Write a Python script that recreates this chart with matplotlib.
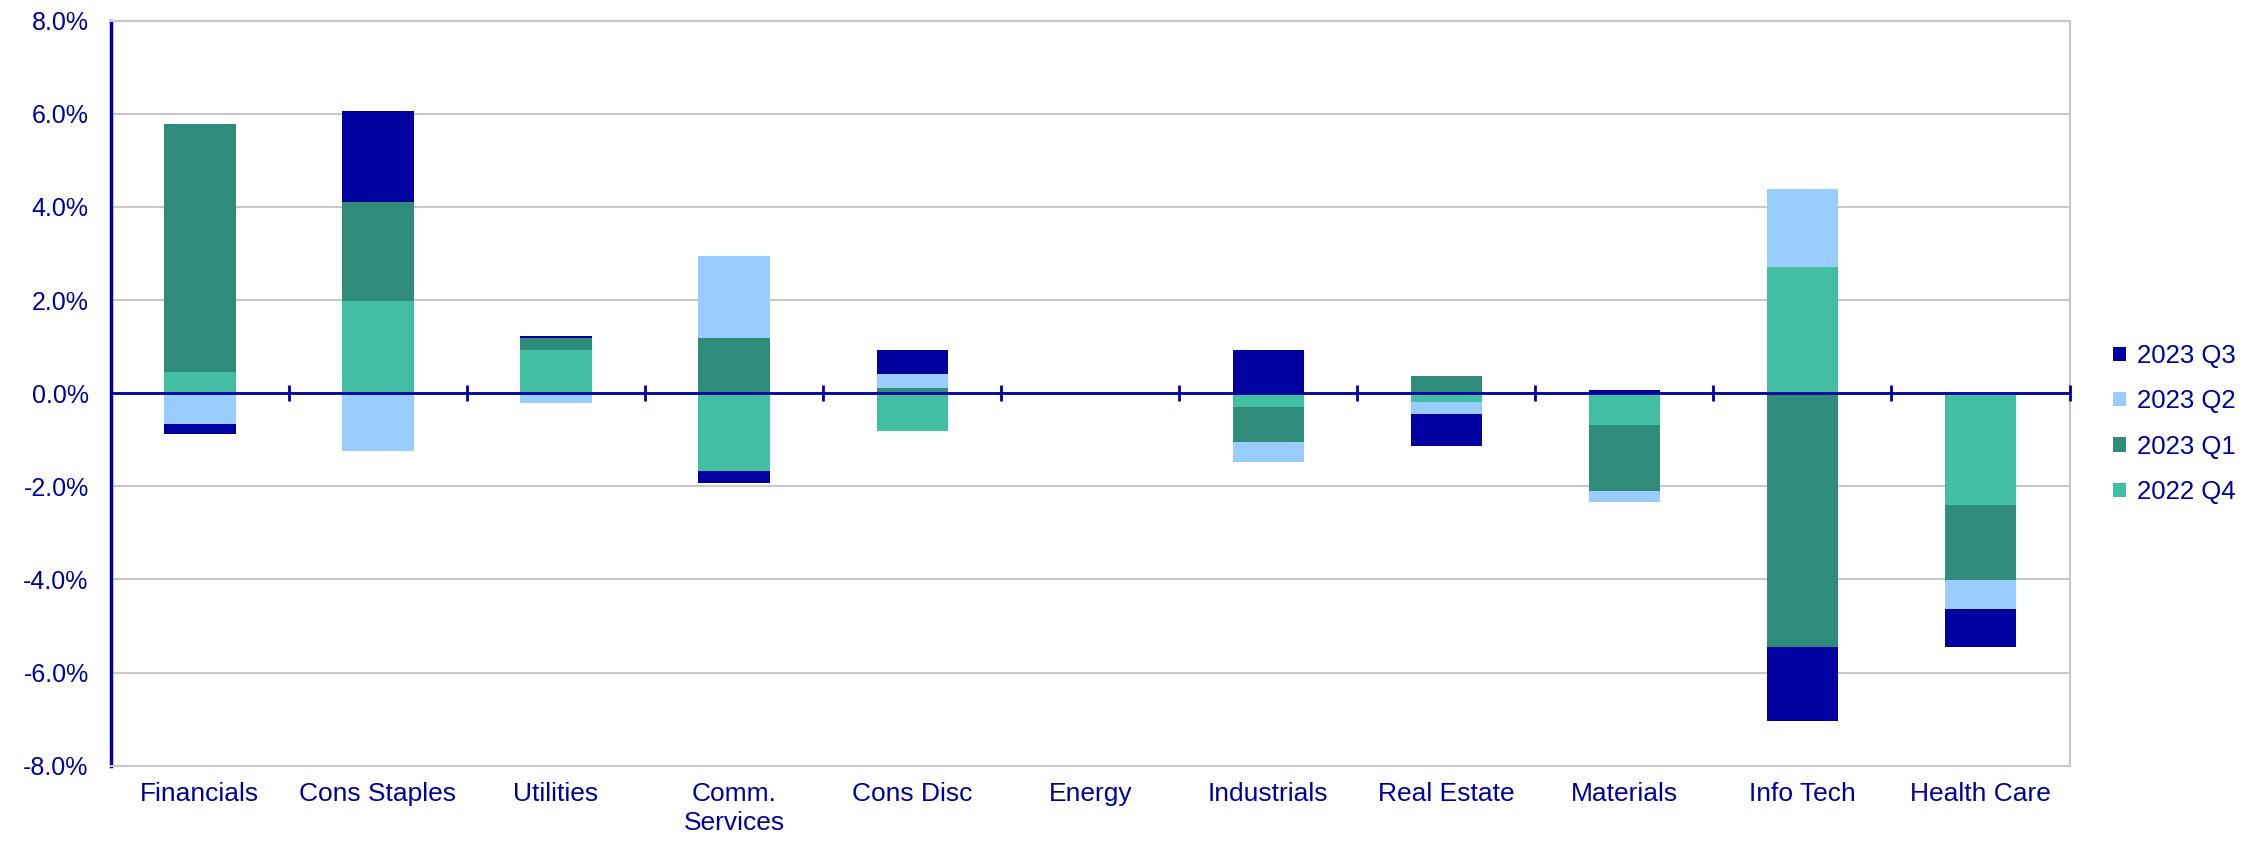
import matplotlib
matplotlib.use("Agg")
import matplotlib.pyplot as plt
import numpy as np
from matplotlib.ticker import FuncFormatter, MultipleLocator

plt.rcParams['font.family'] = ['Liberation Sans', 'DejaVu Sans']

# sector contributions by quarter (%)
sectors = ["Financials", "Cons Staples", "Utilities", "Comm.\nServices", "Cons Disc",
           "Energy", "Industrials", "Real Estate", "Materials", "Info Tech", "Health Care"]
q4_2022 = [0.46, 1.98, 0.93, -1.68, -0.82, 0.0, -0.29, -0.18, -0.68, 2.72, -2.40]
q1_2023 = [5.32, 2.12, 0.26, 1.18, 0.12, 0.0, -0.75, 0.37, -1.43, -5.46, -1.61]
q2_2023 = [-0.67, -1.24, -0.21, 1.76, 0.30, 0.0, -0.44, -0.27, -0.22, 1.67, -0.63]
q3_2023 = [-0.20, 1.97, 0.03, -0.25, 0.51, 0.0, 0.92, -0.68, 0.07, -1.58, -0.82]

series = [("2022 Q4", q4_2022, "#42BFA2"),
          ("2023 Q1", q1_2023, "#308C7A"),
          ("2023 Q2", q2_2023, "#99CCFF"),
          ("2023 Q3", q3_2023, "#0000A0")]

navy = "#0000A0"
grid_gray = "#C8C8C8"

fig = plt.figure(figsize=(22.63, 8.41), dpi=100)
ax = fig.add_axes([0.049, 0.0895, 0.8655, 0.8859])

x = np.arange(len(sectors))
pos_base = np.zeros(len(sectors))
neg_base = np.zeros(len(sectors))
handles = []
for name, vals, color in series:
    v = np.array(vals)
    bottom = np.where(v >= 0, pos_base, neg_base)
    h = ax.bar(x, v, width=0.4, bottom=bottom, color=color, label=name, zorder=2)
    handles.append(h)
    pos_base += np.where(v > 0, v, 0)
    neg_base += np.where(v < 0, v, 0)

ymin, ymax = -8, 8
ax.set_ylim(ymin, ymax)
ax.set_xlim(-0.5, len(sectors) - 0.5)
ax.yaxis.set_major_locator(MultipleLocator(2))
ax.yaxis.set_major_formatter(FuncFormatter(lambda v, p: f"{v:.1f}%"))
ax.yaxis.grid(True, color=grid_gray, linewidth=1.5)
ax.set_axisbelow(True)

ax.set_xticks(x)
ax.set_xticklabels(sectors, linespacing=1.25)
ax.tick_params(axis='x', length=0, pad=12, labelsize=19, labelcolor=navy)
ax.tick_params(axis='y', length=0, pad=16, labelsize=18, labelcolor=navy)

for side in ["top", "right", "bottom"]:
    ax.spines[side].set_color(grid_gray)
    ax.spines[side].set_linewidth(1.5)
ax.spines["left"].set_color(navy)
ax.spines["left"].set_linewidth(2.5)

# zero line with category separator ticks
ax.axhline(0, color=navy, linewidth=2, zorder=4)
zero_pos = (0 - ymin) / (ymax - ymin)
sec = ax.secondary_xaxis(zero_pos)
sec.set_xticks(np.arange(len(sectors) + 1) - 0.5)
sec.tick_params(axis='x', direction='inout', length=11, width=2, color=navy,
                labeltop=False, labelbottom=False)
for s in sec.spines.values():
    s.set_visible(False)
sec.set_zorder(4)

fig.legend(handles[::-1], [s[0] for s in series][::-1],
           loc='center left', bbox_to_anchor=(0.9338, 0.496), frameon=False,
           fontsize=18.5, labelcolor=navy, handlelength=0.48, handleheight=0.48,
           handletextpad=0.45, labelspacing=0.83, borderpad=0, borderaxespad=0)

fig.savefig("out.png", dpi=100)
